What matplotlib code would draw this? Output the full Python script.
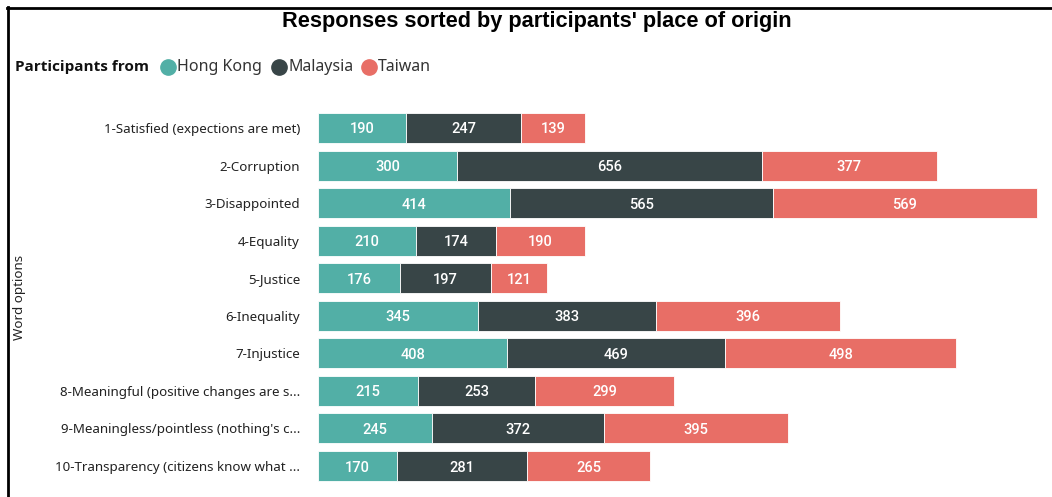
import matplotlib
matplotlib.use("Agg")
import matplotlib.pyplot as plt
from matplotlib.lines import Line2D
import numpy as np

categories = [
    "1-Satisfied (expections are met)",
    "2-Corruption",
    "3-Disappointed",
    "4-Equality",
    "5-Justice",
    "6-Inequality",
    "7-Injustice",
    "8-Meaningful (positive changes are s...",
    "9-Meaningless/pointless (nothing's c...",
    "10-Transparency (citizens know what ...",
]
series_names = ["Hong Kong", "Malaysia", "Taiwan"]
hong_kong = [190, 300, 414, 210, 176, 345, 408, 215, 245, 170]
malaysia = [247, 656, 565, 174, 197, 383, 469, 253, 372, 281]
taiwan = [139, 377, 569, 190, 121, 396, 498, 299, 395, 265]
colors = ["#52AFA6", "#384547", "#E86E66"]

W, H = 1052, 497
fig = plt.figure(figsize=(W / 100, H / 100), dpi=100)
fig.patch.set_facecolor("white")

# axes placement in pixels
ax_left, ax_right = 318, 1040
ax_top, ax_bottom = 109.2, 484.8
ax = fig.add_axes([ax_left / W, 1 - ax_bottom / H,
                   (ax_right - ax_left) / W, (ax_bottom - ax_top) / H])

y = np.arange(len(categories))
left = np.zeros(len(categories))
label_font = dict(family="Roboto", weight="medium", size=10.5, color="white")
for vals, name, col in zip([hong_kong, malaysia, taiwan], series_names, colors):
    vals = np.array(vals, dtype=float)
    ax.barh(y, vals, left=left, height=0.8, color=col, edgecolor="white",
            linewidth=0.6, label=name)
    for yi, l, v in zip(y, left, vals):
        ax.text(l + v / 2, yi, f"{int(v)}", ha="center", va="center_baseline",
                **label_font)
    left += vals

ax.set_xlim(0, 1555)
ax.set_ylim(len(categories) - 0.5, -0.5)
ax.set_yticks(y)
ax.set_yticklabels(categories, family="Noto Sans", size=9.6, color="#222222")
ax.tick_params(axis="y", length=0, pad=13)
ax.set_xticks([])
for s in ax.spines.values():
    s.set_visible(False)

# y-axis title
fig.text(20 / W, 1 - 297 / H, "Word options", rotation=90, ha="center",
         va="center", family="Noto Sans", size=9.6, color="#222222")

# chart title
fig.text(537 / W, 1 - 22 / H, "Responses sorted by participants' place of origin",
         ha="center", va="center", family="Liberation Sans", weight="bold",
         size=15.7, color="black")

# legend row
ly = 1 - 67 / H
fig.text(15 / W, ly, "Participants from", ha="left", va="center",
         family="Open Sans", weight="bold", size=11, color="#111111")
legend_x = [168, 279, 369]
for lx, name, col in zip(legend_x, series_names, colors):
    fig.add_artist(Line2D([lx / W], [ly], marker="o", markersize=11,
                          color=col, linestyle="none",
                          transform=fig.transFigure))
    fig.text((lx + 9) / W, ly, name, ha="left", va="center",
             family="Noto Sans", size=11.5, color="#333333")

# frame lines along the top and left edges
fig.add_artist(Line2D([7 / W, 1.0], [1 - 7.5 / H, 1 - 7.5 / H], color="black",
                      linewidth=2, transform=fig.transFigure))
fig.add_artist(Line2D([7.5 / W, 7.5 / W], [0, 1 - 7 / H], color="black",
                      linewidth=2, transform=fig.transFigure))

fig.savefig("out.png", dpi=100, facecolor="white")
